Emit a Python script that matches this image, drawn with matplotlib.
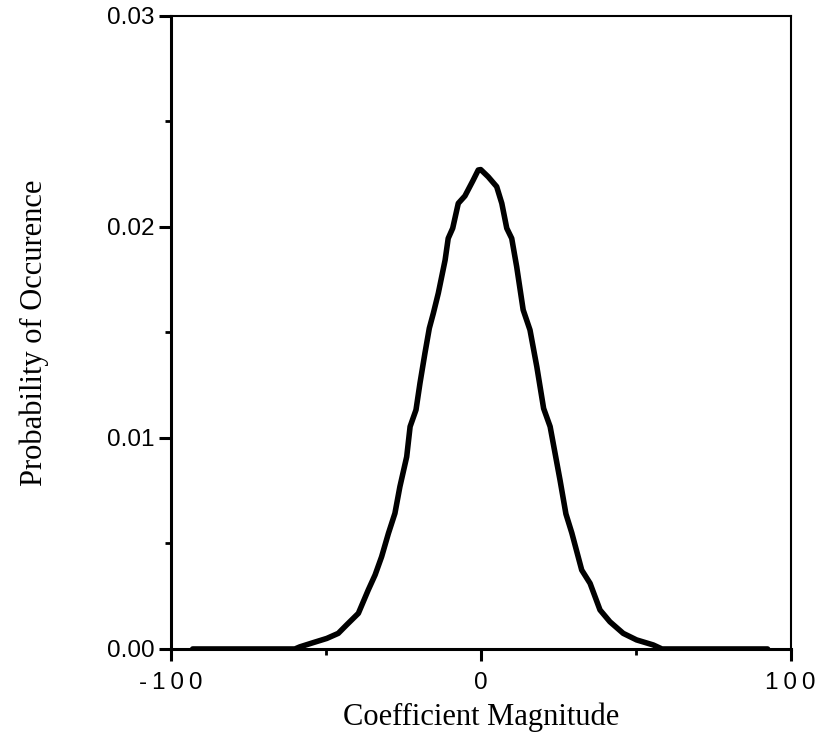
import matplotlib
matplotlib.use("Agg")
import matplotlib.pyplot as plt
from matplotlib.ticker import MultipleLocator, FixedLocator

# Data
coef = [-93, -60, -58.4, -54.1, -49.7, -46.0, -43.3, -39.5, -36.3, -34.1, -32.0,
        -29.8, -27.7, -26.1, -23.9, -22.8, -20.9, -19.6, -18.0, -16.6, -15.3,
        -13.7, -11.5, -10.5, -9.05, -7.25, -5.1, -2.5, -0.8, 0.0, 2.4, 5.15, 6.8,
        8.4, 10.0, 11.6, 13.7, 15.9, 18.1, 20.3, 22.4, 24.0, 25.6, 27.5, 29.4,
        32.6, 35.3, 38.5, 41.7, 46.0, 50.3, 55.7, 58.5, 92.6]
prob = [0.0, 0.0, 0.0001, 0.0003, 0.0005, 0.00074, 0.00114, 0.00169, 0.0028,
        0.00351, 0.00437, 0.00548, 0.00643, 0.00769, 0.00911, 0.01054, 0.01133,
        0.01261, 0.01403, 0.0152, 0.01591, 0.01686, 0.01843, 0.01946, 0.01994,
        0.02112, 0.02147, 0.0222, 0.0227, 0.02272, 0.02238, 0.02191, 0.02112,
        0.01994, 0.01946, 0.01812, 0.01607, 0.01512, 0.01338, 0.0114, 0.01054,
        0.00927, 0.0080, 0.0064, 0.0055, 0.00374, 0.00311, 0.00185, 0.00129,
        0.00074, 0.00043, 0.00019, 0.0, 0.0]

xticks = [-100, 0, 100]
xtick_labels = ["-\u20091\u20090\u20090", "0", "1\u20090\u20090"]
yticks = [0.00, 0.01, 0.02, 0.03]
ytick_labels = ["0.00", "0.01", "0.02", "0.03"]

fig = plt.figure(figsize=(8.18, 7.5), dpi=100)
ax = fig.add_axes([0.209, 0.1347, 0.7574, 0.844])

ax.plot(coef, prob, color="black", linewidth=4.0, solid_joinstyle="round",
        solid_capstyle="round")

ax.set_xlim(-100, 100)
ax.set_ylim(0, 0.03)

ax.xaxis.set_major_locator(FixedLocator(xticks))
ax.set_xticklabels(xtick_labels, family=["Liberation Sans", "DejaVu Sans"], fontsize=17.5)
ax.xaxis.set_minor_locator(FixedLocator([-50, 50]))
ax.yaxis.set_major_locator(FixedLocator(yticks))
ax.set_yticklabels(ytick_labels, family=["Liberation Sans", "DejaVu Sans"], fontsize=17.5)
ax.yaxis.set_minor_locator(MultipleLocator(0.005))

ax.tick_params(axis="both", which="major", direction="out", length=8.6, width=2.2,
               colors="black")
ax.tick_params(axis="both", which="minor", direction="out", length=4.0, width=2.0,
               colors="black")
ax.tick_params(axis="x", which="major", pad=8)
ax.tick_params(axis="y", which="major", pad=3)
ax.tick_params(top=False, right=False, which="both")

for side in ["left", "bottom"]:
    ax.spines[side].set_linewidth(2.2)
for side in ["top", "right"]:
    ax.spines[side].set_linewidth(1.5)

ax.set_xlabel("Coefficient Magnitude", family=["Liberation Serif", "DejaVu Serif"],
              fontsize=22, labelpad=6)
ax.set_ylabel("Probability of Occurence", family=["Liberation Serif", "DejaVu Serif"],
              fontsize=22, labelpad=42)

fig.savefig("out.png", dpi=100, facecolor="white")
